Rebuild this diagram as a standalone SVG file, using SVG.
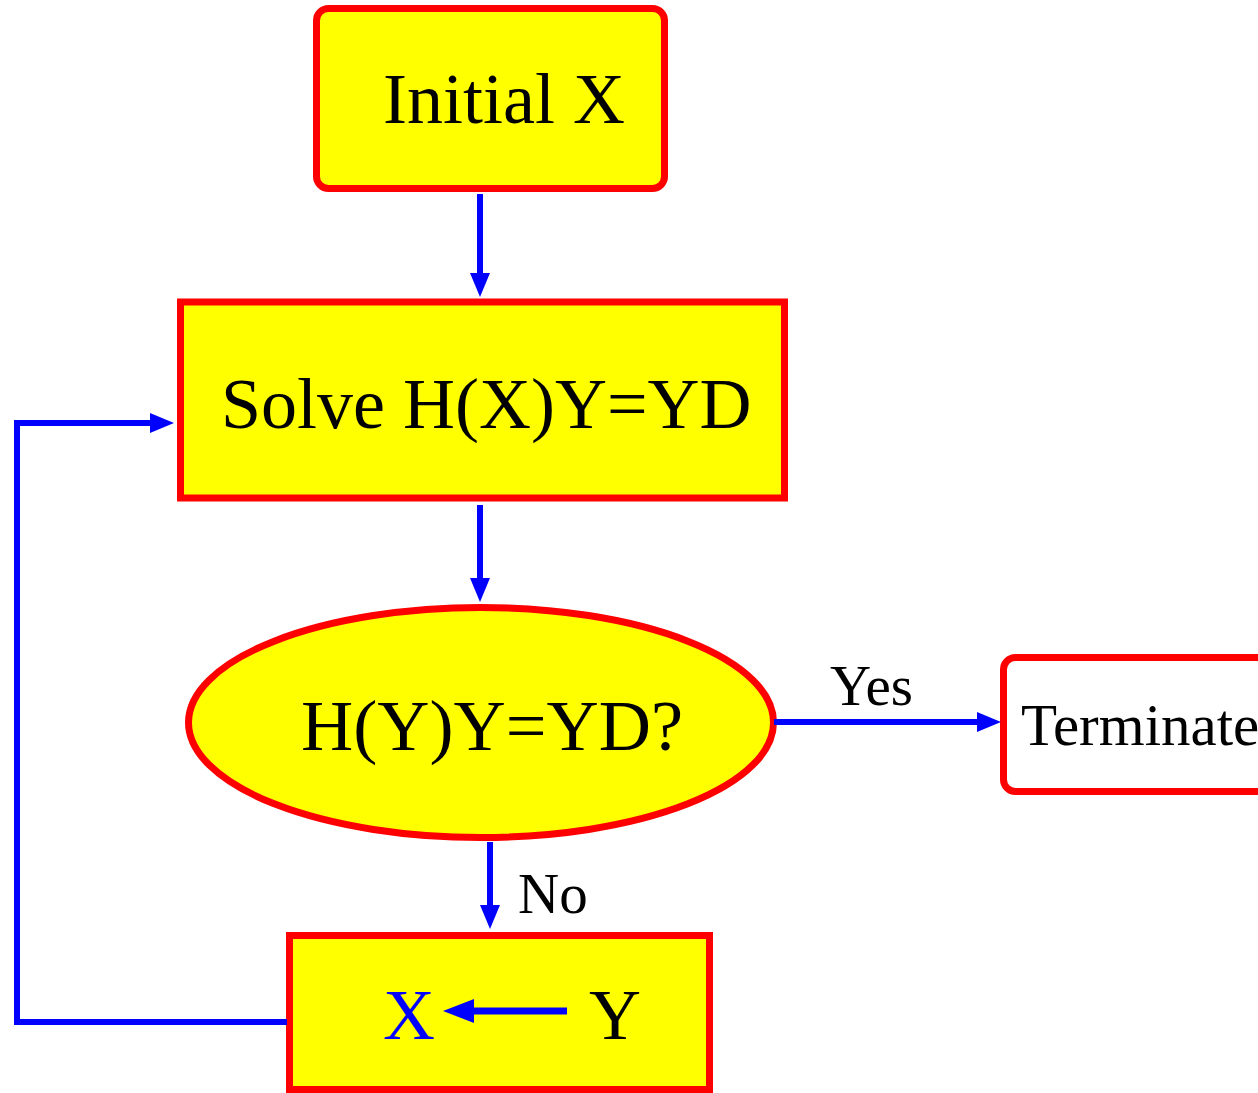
<svg xmlns="http://www.w3.org/2000/svg" width="1258" height="1093" viewBox="0 0 1258 1093">
<style>
.box{fill:#ffff00;stroke:#ff0000;stroke-width:7}
.wbox{fill:#ffffff;stroke:#ff0000;stroke-width:7}
.t{font-family:"Liberation Serif","Times New Roman",serif;fill:#000}
.c{fill:none;stroke:#0000ff;stroke-width:6}
</style>
<defs>
<marker id="ah" viewBox="0 0 24 20" markerWidth="24" markerHeight="20" refX="0" refY="10" orient="auto" markerUnits="userSpaceOnUse">
<path d="M0,0 L24,10 L0,20 z" fill="#0000ff"/>
</marker>
</defs>
<rect width="1258" height="1093" fill="#fff"/>
<g id="initial">
<rect class="box" x="316.5" y="8.5" width="348" height="180" rx="12"/>
<text class="t" x="383" y="123" font-size="72">Initial X</text>
</g>
<g id="solve">
<rect class="box" x="180.5" y="302" width="604" height="196"/>
<text class="t" x="221" y="428" font-size="72">Solve H(X)Y=YD</text>
</g>
<g id="check">
<ellipse class="box" cx="481" cy="722.5" rx="292.5" ry="115"/>
<text class="t" x="301" y="750" font-size="72" textLength="382" lengthAdjust="spacingAndGlyphs">H(Y)Y=YD?</text>
</g>
<g id="terminate">
<rect class="wbox" x="1003.5" y="657.5" width="300" height="134" rx="12"/>
<text class="t" x="1021" y="745" font-size="59">Terminate</text>
</g>
<g id="update">
<rect class="box" x="289.5" y="935.5" width="420" height="154"/>
<text x="383" y="1039" font-size="72" font-family="Liberation Serif, serif" fill="#0000ff">X</text>
<line x1="567" y1="1011" x2="467" y2="1011" stroke="#0000ff" stroke-width="7"/>
<path d="M443,1011 L474,999 L474,1023 z" fill="#0000ff"/>
<text class="t" x="589" y="1039" font-size="72">Y</text>
</g>
<g id="connectors">
<path class="c" d="M480,194 V273" marker-end="url(#ah)"/>
<path class="c" d="M480,505 V578" marker-end="url(#ah)"/>
<path class="c" d="M774,722 H977" marker-end="url(#ah)"/>
<path class="c" d="M490,842 V905" marker-end="url(#ah)"/>
<path class="c" d="M287,1022 H17 V423 H150" marker-end="url(#ah)"/>
<text class="t" x="830" y="705" font-size="57">Yes</text>
<text class="t" x="518" y="913" font-size="57">No</text>
</g>
</svg>
